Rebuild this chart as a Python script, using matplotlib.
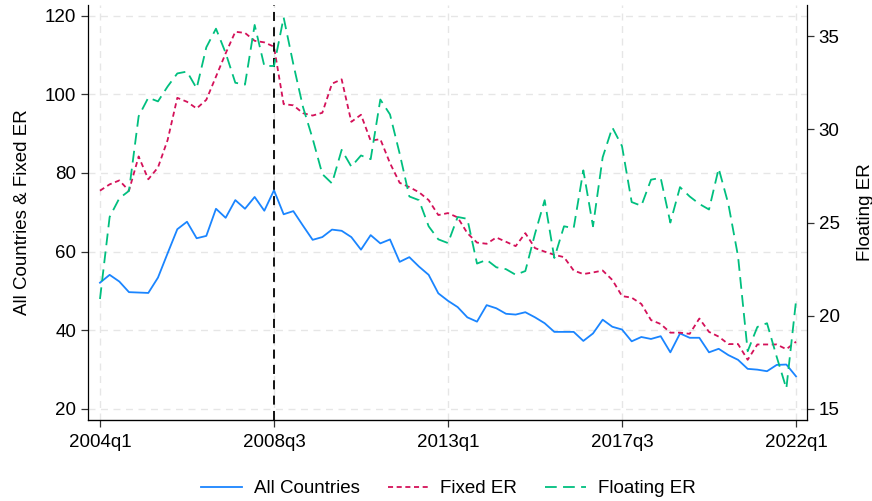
import matplotlib.pyplot as plt

plt.rcParams['font.family'] = ['Liberation Sans', 'DejaVu Sans']

tick_pos = [0, 18, 36, 54, 72]
tick_labels = ["2004q1", "2008q3", "2013q1", "2017q3", "2022q1"]
crisis_idx = 18

all_countries = [52.1, 54.1, 52.4, 49.7, 49.6, 49.5, 53.4, 59.6, 65.7, 67.6,
                 63.4, 64.0, 70.9, 68.6, 73.1, 70.9, 73.9, 70.4, 75.6, 69.5,
                 70.3, 66.6, 63.0, 63.7, 65.6, 65.3, 63.7, 60.5, 64.2, 62.1,
                 63.1, 57.4, 58.6, 56.2, 54.1, 49.4, 47.5, 45.9, 43.3, 42.2,
                 46.4, 45.6, 44.2, 44.0, 44.6, 43.3, 41.8, 39.6, 39.6, 39.6,
                 37.3, 39.2, 42.7, 40.9, 40.2, 37.2, 38.3, 37.8, 38.5, 34.4,
                 39.2, 38.1, 38.1, 34.4, 35.3, 33.7, 32.5, 30.2, 30.0, 29.6,
                 31.2, 31.3, 28.3]
fixed_er = [75.5, 77.1, 78.1, 75.5, 84.2, 78.4, 81.4, 88.4, 99.1, 98.1,
            96.4, 98.6, 104.5, 110.4, 115.9, 115.6, 113.6, 113.2, 112.1, 97.5,
            97.2, 95.2, 94.6, 95.3, 102.7, 103.8, 93.0, 94.8, 88.2, 88.6,
            82.5, 77.5, 76.4, 75.1, 73.1, 69.3, 69.8, 68.7, 64.7, 62.3,
            62.0, 63.6, 62.5, 61.4, 64.7, 60.9, 60.0, 59.2, 58.6, 55.2,
            54.3, 54.7, 55.2, 52.8, 48.7, 48.3, 46.7, 42.6, 41.6, 39.4,
            39.4, 39.1, 43.0, 39.6, 38.4, 36.5, 36.5, 32.5, 36.4, 36.4,
            36.4, 35.2, 37.1]
floating_er = [20.9, 25.3, 26.3, 26.7, 30.7, 31.7, 31.5, 32.3, 33.0, 33.1,
               32.2, 34.4, 35.4, 34.1, 32.5, 32.4, 35.6, 33.4, 33.4, 36.0,
               33.5, 31.2, 29.5, 27.6, 27.1, 28.9, 28.0, 28.6, 28.4, 31.6,
               30.8, 28.7, 26.4, 26.2, 24.8, 24.1, 23.9, 25.3, 25.2, 22.8,
               23.0, 22.6, 22.5, 22.2, 22.4, 24.4, 26.2, 23.1, 24.8, 24.7,
               27.8, 24.8, 28.5, 30.1, 29.1, 26.1, 25.9, 27.3, 27.4, 25.0,
               26.9, 26.4, 26.0, 25.7, 27.9, 26.0, 23.2, 18.1, 19.4, 19.6,
               17.8, 16.1, 20.8]

blue = "#1a85ff"
red = "#d41159"
green = "#00bf7f"

x = list(range(len(all_countries)))

fig = plt.figure(figsize=(8.72, 5.01), dpi=100)
ax = fig.add_axes([0.1009, 0.1617, 0.8246, 0.8283])
ax2 = ax.twinx()

l1, = ax.plot(x, all_countries, color=blue, lw=1.3, label="All Countries")
l2, = ax.plot(x, fixed_er, color=red, lw=1.3, dashes=(2.8, 2.0), label="Fixed ER")
l3, = ax2.plot(x, floating_er, color=green, lw=1.3, dashes=(6.5, 3.5), label="Floating ER")
ax.axvline(crisis_idx, color="black", lw=1.3, dashes=(5, 3.5))

ax.set_xlim(-1.24, 73.14)
ax.set_ylim(17.2, 122.7)
ax2.set_ylim(14.41, 36.67)
ax.set_yticks([20, 40, 60, 80, 100, 120])
ax2.set_yticks([15, 20, 25, 30, 35])
ax.set_xticks(tick_pos)
ax.set_xticklabels(tick_labels)

ax.grid(True, color="#e6e6e6", lw=1.0, dashes=(5, 4))
ax.set_axisbelow(True)

for a in (ax, ax2):
    a.spines['top'].set_visible(False)
    a.tick_params(labelsize=13.5, length=5, width=0.9, color="#333333")
ax.spines['right'].set_visible(False)
ax2.spines['left'].set_visible(False)
ax2.spines['right'].set_linewidth(0.9)
ax.spines['left'].set_linewidth(0.9)
ax.spines['bottom'].set_linewidth(0.9)
ax.tick_params(axis='x', pad=5)

ax.set_ylabel("All Countries & Fixed ER", fontsize=13.5, labelpad=10)
ax2.set_ylabel("Floating ER", fontsize=13.5, labelpad=12)

fig.legend(handles=[l1, l2, l3], loc="lower center", bbox_to_anchor=(0.514, -0.026),
           ncol=3, frameon=False, fontsize=13.5, handlelength=2.2, columnspacing=1.5,
           handletextpad=0.6)

fig.savefig("out.png", dpi=100)
